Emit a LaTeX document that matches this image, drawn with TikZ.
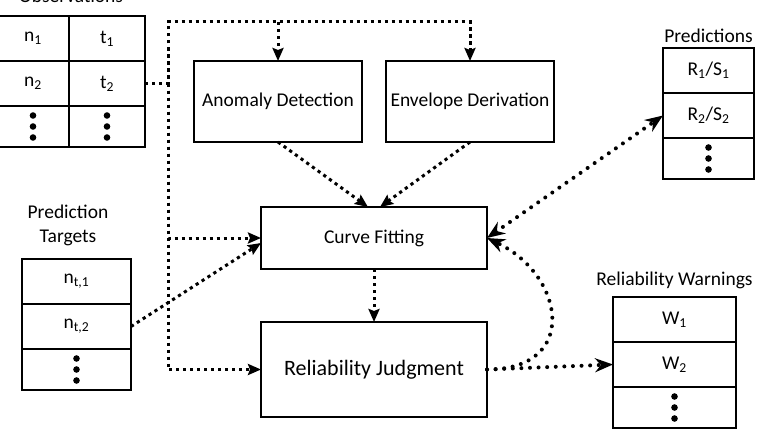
\documentclass[tikz,border=0pt]{standalone}
\usepackage{fontspec}
\setmainfont{Carlito}
\usetikzlibrary{arrows.meta,positioning,calc}

\newcommand{\celldots}[1]{\foreach \dy in {-11,0,11} \fill ([yshift=\dy pt]#1.center) circle (3.3pt);}

\begin{document}
\begin{tikzpicture}[
            x=1pt, y=-1pt,
            font=\fontsize{19.5}{24}\selectfont,
            every node/.style={outer sep=0pt},
            block/.style={draw,line width=2.6pt,inner sep=0pt},
            cell/.style={draw,line width=2.6pt,inner sep=0pt,minimum height=45pt},
            endcell/.style={cell,minimum height=41pt},
            title/.style={inner sep=0pt,anchor=base},
            flow/.style={line width=3pt,dash pattern=on 3.2pt off 3.8pt,
                >={Stealth[length=13pt,width=11pt,inset=2pt]},->},
            roundflow/.style={line width=4pt,line cap=round,dash pattern=on 0pt off 8.6pt,
                >={Stealth[length=18pt,width=14pt,inset=6pt]},->}
        ]
        \useasboundingbox (0,0) rectangle (762,436);

        % Observations %
        \node[title] (obstitle) at (71,3) {Observations};
        \node[cell,minimum width=72pt] (obs11) at (33,38.5) {n\textsubscript{1}};
        \node[cell,minimum width=76pt,right=0pt of obs11] (obs12) {t\textsubscript{1}};
        \node[cell,minimum width=72pt,below=0pt of obs11] (obs21) {n\textsubscript{2}};
        \node[cell,minimum width=76pt,right=0pt of obs21] (obs22) {t\textsubscript{2}};
        \node[endcell,minimum width=72pt,below=0pt of obs21] (obs31) {};
        \node[endcell,minimum width=76pt,right=0pt of obs31] (obs32) {};
        \celldots{obs31}
        \celldots{obs32}

        % Prediction targets %
        \node[title,align=center,anchor=south] (tgttitle) at (68,246) {Prediction\\Targets};
        \node[cell,minimum width=109pt] (tgt11) at (76.5,281.5) {n\textsubscript{t,1}};
        \node[cell,minimum width=109pt,below=0pt of tgt11] (tgt21) {n\textsubscript{t,2}};
        \node[endcell,minimum width=109pt,below=0pt of tgt21] (tgt31) {};
        \celldots{tgt31}

        % Predictions %
        \node[title] (predtitle) at (708.5,42) {Predictions};
        \node[cell,minimum width=91pt] (pred11) at (708.5,70.5) {R\textsubscript{1}/S\textsubscript{1}};
        \node[cell,minimum width=91pt,below=0pt of pred11] (pred21) {R\textsubscript{2}/S\textsubscript{2}};
        \node[endcell,minimum width=91pt,below=0pt of pred21] (pred31) {};
        \celldots{pred31}

        % Reliability warnings %
        \node[title] (warntitle) at (674.5,285) {Reliability Warnings};
        \node[cell,minimum width=123pt] (warn11) at (674.5,319.5) {W\textsubscript{1}};
        \node[cell,minimum width=123pt,below=0pt of warn11] (warn21) {W\textsubscript{2}};
        \node[endcell,minimum width=123pt,below=0pt of warn21] (warn31) {};
        \celldots{warn31}

        % Processing blocks %
        \node[block,minimum width=168pt,minimum height=81pt] (anomaly) at (278,101.5) {Anomaly Detection};
        \node[block,minimum width=168pt,minimum height=81pt] (envelope) at (470,101.5) {Envelope Derivation};
        \node[block,minimum width=226pt,minimum height=62pt] (fitting) at (374,238) {Curve Fitting};
        \node[block,minimum width=226pt,minimum height=95pt,font=\fontsize{22}{26}\selectfont] (judgment) at (374,369.5) {Reliability Judgment};

        % Data bus %
        \coordinate (split) at (168,83.5);
        \coordinate (bus) at (168,22);
        \draw[flow] (obs22.east) -- (split) -- (bus) -- (envelope.north |- bus) -- (envelope.north);
        \draw[flow] (anomaly.north |- bus) -- (anomaly.north);
        \draw[flow] (split) |- (fitting.west);
        \draw[flow] (split) |- (judgment.west);

        % Arrows between blocks %
        \draw[flow] (anomaly.south) -- ([xshift=-6pt]fitting.north);
        \draw[flow] (envelope.south) -- ([xshift=6pt]fitting.north);
        \draw[flow] (fitting.south) -- (judgment.north);
        \draw[flow] (tgt21.east) -- ([yshift=-5pt]fitting.west);

        % Outputs %
        \draw[roundflow,<->] (fitting.east) -- (pred21.west);
        \draw[roundflow] (judgment.east) -- (warn21.west);
        \draw[roundflow] (judgment.east) .. controls +(93,0) and +(78,37) .. (fitting.east);
\end{tikzpicture}
\end{document}
